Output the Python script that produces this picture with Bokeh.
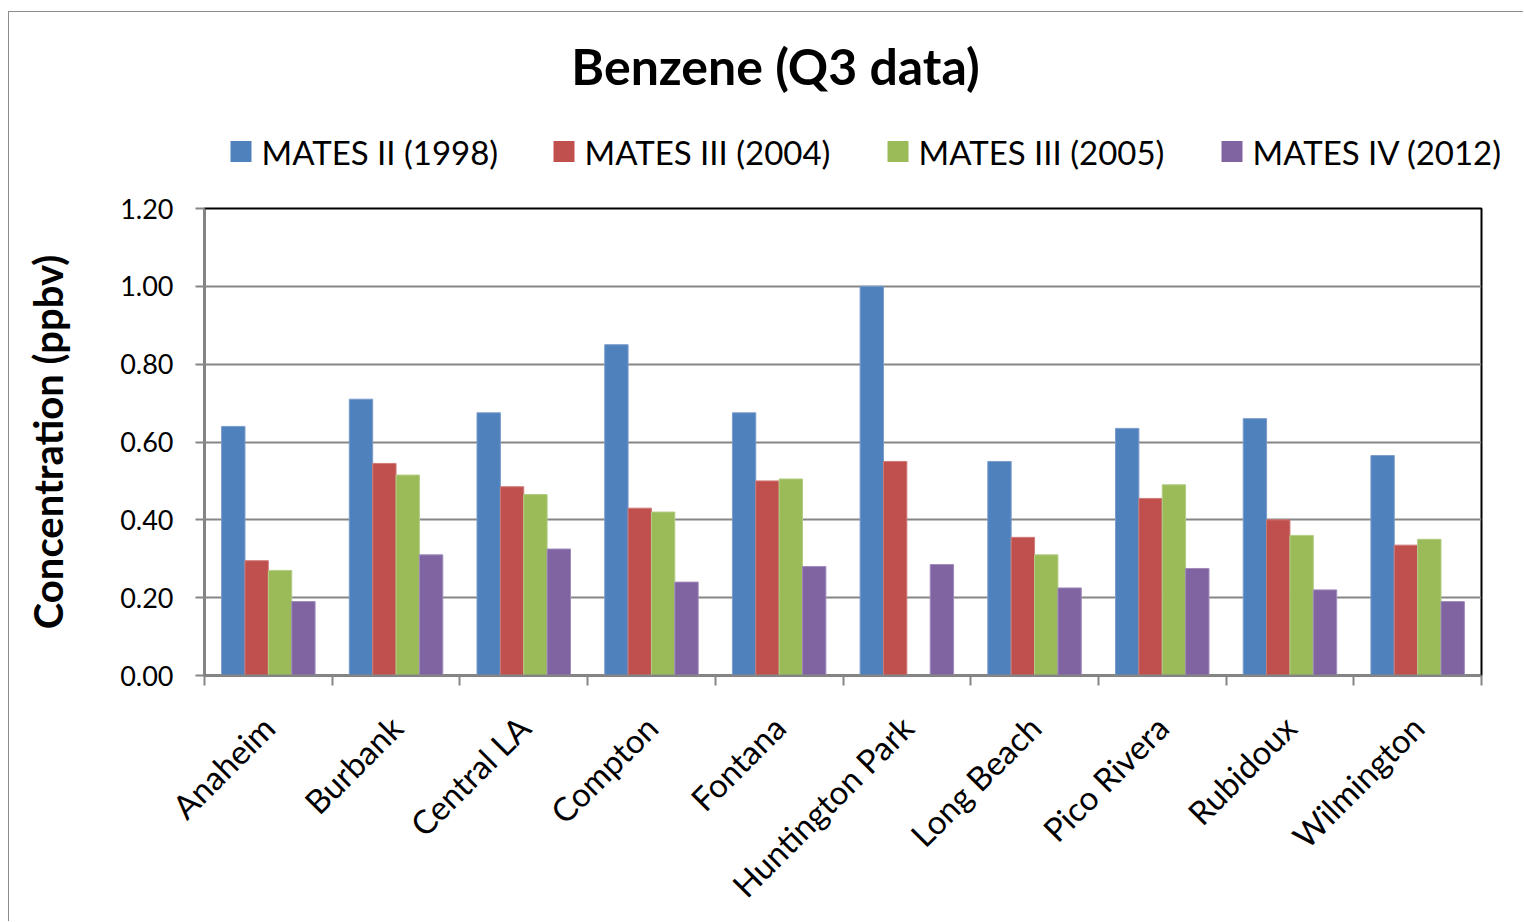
import math
from bokeh.plotting import figure
from bokeh.layouts import column
from bokeh.models import (ColumnDataSource, Range1d, FixedTicker, NumeralTickFormatter)
from bokeh.core.properties import value
from bokeh.transform import dodge
from bokeh.embed import file_html
from bokeh.resources import INLINE

nan = float("nan")

sites = ["Anaheim", "Burbank", "Central LA", "Compton", "Fontana",
         "Huntington Park", "Long Beach", "Pico Rivera", "Rubidoux", "Wilmington"]
series_names = ["MATES II (1998)", "MATES III (2004)", "MATES III (2005)", "MATES IV (2012)"]
mates_ii_1998 = [0.64, 0.71, 0.675, 0.85, 0.675, 1.00, 0.55, 0.635, 0.66, 0.565]
mates_iii_2004 = [0.295, 0.545, 0.485, 0.43, 0.50, 0.55, 0.355, 0.455, 0.40, 0.335]
mates_iii_2005 = [0.27, 0.515, 0.465, 0.42, 0.505, nan, 0.31, 0.49, 0.36, 0.35]
mates_iv_2012 = [0.19, 0.31, 0.325, 0.24, 0.28, 0.285, 0.225, 0.275, 0.22, 0.19]
y_ticks = [0.0, 0.2, 0.4, 0.6, 0.8, 1.0, 1.2]
chart_title = "Benzene (Q3 data)"
y_title = "Concentration (ppbv)"

colors = ["#4F81BD", "#C0504D", "#9BBB59", "#8064A2"]
outlines = ["#7A9CCB", "#CE7A78", "#B3CC85", "#A08BBC"]

FONT = "Lato"
W = 1514
H_HEAD = 180
H_MAIN = 729

# ---------------- header: title + legend ----------------
head = figure(width=W, height=H_HEAD, output_backend="svg", toolbar_location=None,
              x_range=Range1d(0, W), y_range=Range1d(0, H_HEAD),
              x_axis_type=None, y_axis_type=None,
              min_border=0, min_border_left=0, min_border_right=0,
              min_border_top=0, min_border_bottom=0)
if "frame_align" in head.properties():
    head.frame_align = False
head.grid.visible = False
head.outline_line_color = None
head.background_fill_color = "white"
head.border_fill_color = "white"

head.text(x=[766], y=[127], text=[chart_title], text_align="center", text_baseline="middle",
          text_font=value(FONT), text_font_size="50px", text_font_style="bold",
          text_color="#000000")

leg_left = [221, 544, 878, 1212]          # left edge of each legend swatch (layout)
leg_y = 41
head.rect(x=[l + 10.5 for l in leg_left], y=[leg_y] * 4, width=21, height=21,
          fill_color=colors, line_color=None)
head.text(x=[l + 31 for l in leg_left], y=[leg_y] * 4, text=series_names,
          text_align="left", text_baseline="middle",
          text_font=value(FONT), text_font_size="33px", text_color="#000000")

# ---------------- main chart ----------------
pos = [i + 0.5 for i in range(len(sites))]
src = ColumnDataSource(dict(x=pos, s0=mates_ii_1998, s1=mates_iii_2004,
                            s2=mates_iii_2005, s3=mates_iv_2012))

p = figure(width=W, height=H_MAIN, output_backend="svg", toolbar_location=None,
           x_range=Range1d(0, len(sites)), y_range=Range1d(0, 1.2),
           min_border_left=195, min_border_right=42, min_border_top=16, min_border_bottom=245)
if "frame_align" in p.properties():
    p.frame_align = False

bw = 0.183
offsets = [-1.5 * bw, -0.5 * bw, 0.5 * bw, 1.5 * bw]
for k, col in enumerate(["s0", "s1", "s2", "s3"]):
    p.vbar(x=dodge("x", offsets[k], range=p.x_range), top=col, width=bw, bottom=0,
           source=src, fill_color=colors[k], line_color=outlines[k], line_width=1)

p.xaxis.ticker = FixedTicker(ticks=pos, minor_ticks=list(range(len(sites) + 1)))
p.xaxis.major_label_overrides = {pos[i]: sites[i] for i in range(len(sites))}
p.xaxis.major_label_orientation = math.pi / 4
p.xaxis.major_label_text_font = FONT
p.xaxis.major_label_text_font_size = "33px"
p.xaxis.major_label_text_color = "#000000"
p.xaxis.major_label_standoff = 36
p.xaxis.major_tick_out = 0
p.xaxis.major_tick_in = 0
p.xaxis.minor_tick_out = 10
p.xaxis.minor_tick_in = 0
p.xaxis.minor_tick_line_color = "#868686"
p.xaxis.minor_tick_line_width = 2
p.xaxis.axis_line_color = "#868686"
p.xaxis.axis_line_width = 2

p.yaxis.ticker = FixedTicker(ticks=y_ticks)
p.yaxis.formatter = NumeralTickFormatter(format="0.00")
p.yaxis.major_label_text_font = FONT
p.yaxis.major_label_text_font_size = "27px"
p.yaxis.major_label_text_color = "#000000"
p.yaxis.major_label_standoff = 22
p.yaxis.major_tick_out = 9
p.yaxis.major_tick_in = 0
p.yaxis.minor_tick_out = 0
p.yaxis.minor_tick_in = 0
p.yaxis.major_tick_line_color = "#868686"
p.yaxis.major_tick_line_width = 2
p.yaxis.axis_line_color = "#868686"
p.yaxis.axis_line_width = 2
p.yaxis.axis_label = y_title
p.yaxis.axis_label_text_font = FONT
p.yaxis.axis_label_text_font_size = "40px"
p.yaxis.axis_label_text_font_style = "bold"
p.yaxis.axis_label_text_color = "#000000"
p.yaxis.axis_label_standoff = 45

p.xgrid.grid_line_color = None
p.ygrid.grid_line_color = "#868686"
p.ygrid.grid_line_width = 2

p.outline_line_color = "#000000"
p.outline_line_width = 2
p.background_fill_color = "white"
p.border_fill_color = "white"

layout = column(head, p, spacing=0, margin=(11, 0, 0, 8),
                styles={"border-left": "1px solid #8c8c8c", "border-top": "1px solid #8c8c8c",
                        "background-color": "white"})

open("out.html", "w").write(file_html(layout, INLINE))
